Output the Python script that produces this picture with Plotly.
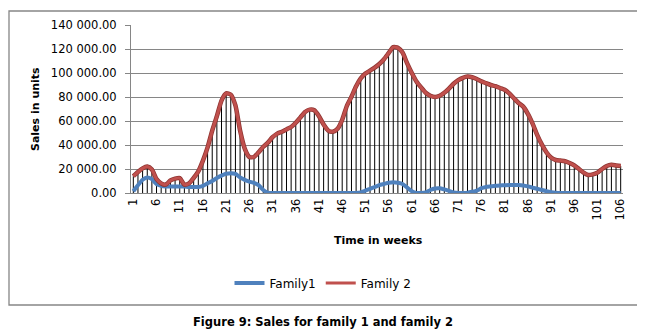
import plotly.graph_objects as go

weeks = list(range(1, 107))

family1 = [
    1500, 6500, 11000, 13000, 11500, 7500, 6000, 5500, 5500, 5500,
    5500, 5500, 5000, 5000, 5000, 6000, 8000, 10000, 12500, 14500,
    16000, 16500, 16000, 13000, 11000, 9500, 8500, 6500, 2500, 300,
    0, 0, 0, 0, 0, 0, 0, 0, 0, 0,
    0, 0, 0, 0, 0, 0, 0, 0, 0, 500,
    2000, 3500, 5000, 6500, 7500, 8500, 9000, 8500, 7500, 4500,
    1500, 0, 0, 500, 2500, 3800, 4000, 3000, 1800, 500,
    0, 0, 200, 1000, 2000, 4000, 5000, 5500, 6000, 6300,
    6500, 6700, 6700, 6700, 6300, 5500, 4500, 3500, 2500, 1500,
    700, 200, 0, 0, 0, 0, 0, 0, 0, 0,
    0, 0, 0, 0, 0, 0,
]

family2 = [
    14000, 17500, 20500, 22000, 19500, 11500, 8000, 7000, 10500, 12000,
    12500, 7000, 8000, 12500, 18000, 27000, 38000, 52000, 64000, 77000,
    83000, 82000, 73000, 52000, 37000, 30000, 30000, 34000, 38500, 42000,
    46500, 49500, 51000, 53000, 55000, 58500, 63000, 67500, 69500, 69000,
    64000, 57000, 52000, 51000, 53500, 61000, 72500, 80200, 89000, 95500,
    99500, 102000, 104500, 107500, 111500, 116500, 121500, 121000, 117000, 108000,
    100000, 93000, 88000, 83500, 81000, 80000, 81000, 83500, 87000, 91000,
    94000, 96000, 97000, 96500, 95000, 93000, 91500, 90000, 89000, 87500,
    86000, 83000, 79000, 75000, 72000, 66000, 58000, 48500, 40500, 34000,
    29500, 27500, 27000, 26500, 25000, 23000, 20000, 17000, 15000, 15500,
    17000, 20000, 22500, 23500, 23000, 22500,
]

x_ticks = list(range(1, 107, 5))
y_ticks = [0, 20000, 40000, 60000, 80000, 100000, 120000, 140000]

# drop lines from each Family 2 point to the axis
drop_x, drop_y = [], []
for w, v in zip(weeks, family2):
    drop_x += [w, w, None]
    drop_y += [0, v, None]

fig = go.Figure()
fig.add_trace(go.Scatter(x=drop_x, y=drop_y, mode="lines",
                         line=dict(color="black", width=1),
                         showlegend=False, hoverinfo="skip"))
fig.add_trace(go.Scatter(x=weeks, y=family1, mode="lines", name="Family1",
                         line=dict(color="#4F81BD", width=4, shape="spline", smoothing=0.6)))
fig.add_trace(go.Scatter(x=weeks, y=family2, mode="lines", showlegend=False,
                         line=dict(color="#8E3431", width=4.5, shape="spline", smoothing=0.6),
                         hoverinfo="skip"))
fig.add_trace(go.Scatter(x=weeks, y=family2, mode="lines", name="Family 2",
                         line=dict(color="#C0504D", width=3, shape="spline", smoothing=0.6)))

# page offset of the figure (body margin)
OFF = 8
# desired plot area in page pixels
PL, PR, PT, PB = 131, 623, 25, 193
W, H = 645 - OFF, 333 - OFF
L, T = PL - OFF, PT - OFF
R, B = W - (PR - OFF), H - (PB - OFF)
pw, ph = PR - PL, PB - PT

def px(x):
    return (x - PL) / pw

def py(y):
    return (PB - y) / ph

fig.update_layout(
    width=W, height=H,
    margin=dict(l=L, r=R, t=T, b=B, autoexpand=False),
    paper_bgcolor="white", plot_bgcolor="white",
    separators=". ",
    font=dict(family="DejaVu Sans", size=11, color="black"),
    showlegend=True,
    legend=dict(orientation="h", x=px(323), xanchor="center", y=py(283), yanchor="middle",
                font=dict(size=12, family="DejaVu Sans"), itemwidth=30,
                bgcolor="rgba(0,0,0,0)"),
    xaxis=dict(range=[0.5, 106.5], tickmode="array", tickvals=x_ticks,
               tickangle=-90, showgrid=False, zeroline=False,
               showline=True, linecolor="#868686", linewidth=1,
               ticks="", tickfont=dict(size=11.5)),
    yaxis=dict(range=[0, 140000], tickmode="array", tickvals=y_ticks,
               tickformat=",.2f", showgrid=True, gridcolor="#868686", gridwidth=1,
               zeroline=False, showline=True, linecolor="#868686", linewidth=1,
               ticks="outside", ticklen=5, tickcolor="#868686",
               ticklabelstandoff=6, tickfont=dict(size=11.5)),
    annotations=[
        dict(text="<b>Sales in units</b>", x=px(35), y=py(109), xref="paper", yref="paper",
             xanchor="center", yanchor="middle",
             textangle=-90, showarrow=False, font=dict(size=11, family="DejaVu Sans")),
        dict(text="<b>Time in weeks</b>", x=px(378), y=py(241), xref="paper", yref="paper",
             xanchor="center", yanchor="middle",
             showarrow=False, font=dict(size=11, family="DejaVu Sans")),
        dict(text="<b>Figure 9: Sales for family 1 and family 2</b>", x=px(323), y=py(322),
             xref="paper", yref="paper", xanchor="center", yanchor="middle", showarrow=False,
             font=dict(size=11.5, family="DejaVu Sans")),
    ],
    shapes=[
        dict(type="rect", xref="paper", yref="paper", x0=px(9), x1=px(639),
             y0=py(305), y1=py(11), line=dict(color="#868686", width=1.3)),
    ],
)

fig.write_html("out.html")
